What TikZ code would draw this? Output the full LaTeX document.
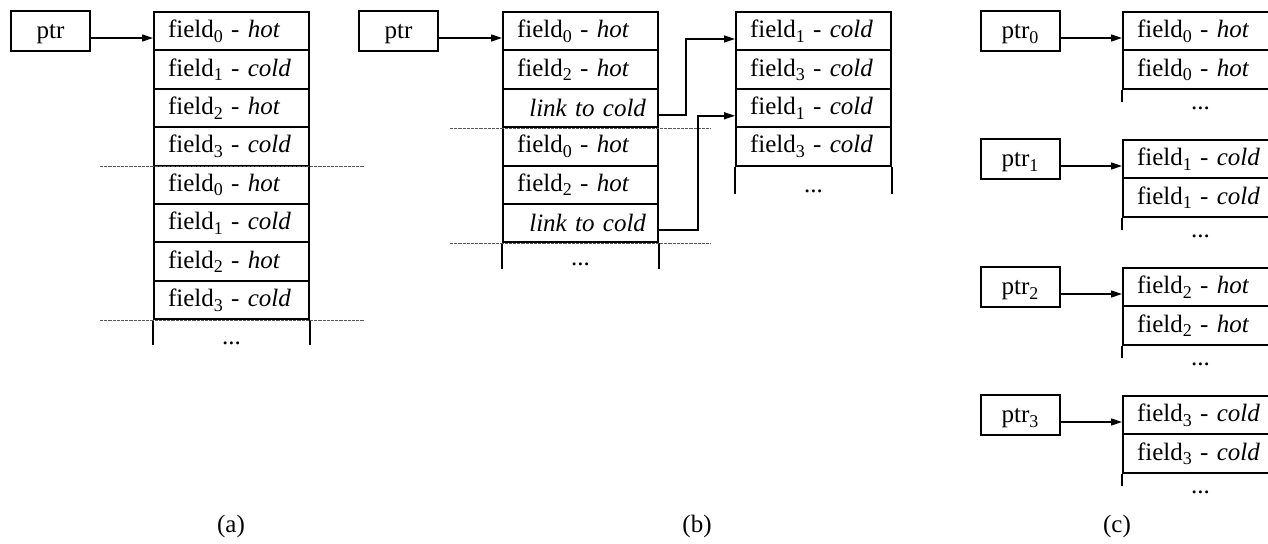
\documentclass[tikz,border=0pt]{standalone}
\usepackage{fontspec}
\setmainfont{Liberation Serif}
\usetikzlibrary{arrows.meta,calc}

% lowered index digit
\newcommand\idx[1]{\raisebox{-0.4ex}{\fontsize{9}{10}\selectfont #1}}
% one field entry: field_i - <temperature>, kept on one line
\newcommand\fld[2]{\mbox{field\idx{#1} - \textit{#2}}}

\begin{document}
\begin{tikzpicture}[x=0.5pt,y=-0.5pt,
  every node/.style={font=\fontsize{12.5}{15}\selectfont},
  ptrbox/.style={draw, line width=1pt, minimum width=39.5pt, minimum height=20pt,
    inner sep=0pt, text height=9pt, text depth=1pt},
  cell/.style={draw, line width=1pt, anchor=north west, minimum height=19.2pt,
    text width=63.5pt, inner xsep=7pt, inner ysep=0pt, align=left},
  linkcell/.style={cell, text width=65.5pt, inner xsep=6pt, align=right},
  tail/.style={line width=1pt},
  dotsnode/.style={anchor=base, inner sep=0pt},
  sepline/.style={gray!70!black, line width=0.45pt, dash pattern=on 1.6pt off 0.5pt},
  ptrarrow/.style={line width=0.75pt, -{Triangle[length=5.5pt,width=3.5pt]}},
  caption/.style={inner sep=0pt}
]
\useasboundingbox (0,0) rectangle (1268,544);
\clip (0,0) rectangle (1268,544);

% ---------------- (a) interleaved hot and cold fields ----------------
\node[ptrbox] (pa) at (50.5,31) {ptr};
\node[cell] (a0) at (153,11)    {\fld{0}{hot}};
\node[cell] (a1) at (153,49.4)  {\fld{1}{cold}};
\node[cell] (a2) at (153,87.8)  {\fld{2}{hot}};
\node[cell] (a3) at (153,126.2) {\fld{3}{cold}};
\node[cell] (a4) at (153,164.6) {\fld{0}{hot}};
\node[cell] (a5) at (153,203)   {\fld{1}{cold}};
\node[cell] (a6) at (153,241.4) {\fld{2}{hot}};
\node[cell] (a7) at (153,279.8) {\fld{3}{cold}};
\draw[tail] (a7.south west) -- ++(0,-12.5pt);
\draw[tail] (a7.south east) -- ++(0,-12.5pt);
\node[dotsnode] (adots) at ($(a7.south)+(0,-12pt)$) {...};
\draw[sepline] ([xshift=-26.5pt]a3.south west) -- ([xshift=27pt]a3.south east);
\draw[sepline] ([xshift=-26.5pt]a7.south west) -- ([xshift=27pt]a7.south east);
\draw[ptrarrow] ([yshift=-3.5pt]pa.east) -- ([yshift=-3.5pt]pa.east -| a0.west);
\node[caption] (capa) at (231,526) {(a)};

% ---------------- (b) hot fields with a link to the cold part ----------------
\node[ptrbox] (pb) at (398.5,31) {ptr};
\node[cell] (b0) at (502,11)    {\fld{0}{hot}};
\node[cell] (b1) at (502,49.4)  {\fld{2}{hot}};
\node[linkcell] (b2) at (502,87.8) {\mbox{\textit{link to cold}}};
\node[cell] (b3) at (502,126.2) {\fld{0}{hot}};
\node[cell] (b4) at (502,164.6) {\fld{2}{hot}};
\node[linkcell] (b5) at (502,203) {\mbox{\textit{link to cold}}};
\draw[tail] (b5.south west) -- ++(0,-12.8pt);
\draw[tail] (b5.south east) -- ++(0,-12.8pt);
\node[dotsnode] (bdots) at ($(b5.south)+(0,-11pt)$) {...};
\draw[sepline] ([xshift=-26pt]b2.south west) -- ([xshift=26pt]b2.south east);
\draw[sepline] ([xshift=-26pt]b5.south west) -- ([xshift=26pt]b5.south east);
\draw[ptrarrow] ([yshift=-3.5pt]pb.east) -- ([yshift=-3.5pt]pb.east -| b0.west);

\node[cell] (c0) at (735,11)    {\fld{1}{cold}};
\node[cell] (c1) at (735,49.4)  {\fld{3}{cold}};
\node[cell] (c2) at (735,87.8)  {\fld{1}{cold}};
\node[cell] (c3) at (735,126.2) {\fld{3}{cold}};
\draw[tail] (c3.south west) -- ++(0,-13.7pt);
\draw[tail] (c3.south east) -- ++(0,-13.7pt);
\node[dotsnode] (cdots) at ($(c3.south)+(0,-13pt)$) {...};

\draw[ptrarrow] ([yshift=-3.5pt]b2.east) -- ++(13.5pt,0) |- ([yshift=-3.9pt]c0.west);
\draw[ptrarrow] ([yshift=-3.5pt]b5.east) -- ++(19.5pt,0) |- ([yshift=-3.9pt]c2.west);
\node[caption] (capb) at (697,526) {(b)};

% ---------------- (c) one array per field ----------------
\foreach \k/\t/\y in {0/hot/11, 1/cold/139, 2/hot/267, 3/cold/395}{
  \node[ptrbox] (p\k) at (1020,\y+20) {ptr\idx{\k}};
  \node[cell] (d\k a) at (1122,\y) {\fld{\k}{\t}};
  \node[cell] (d\k b) at (1122,\y+38.4) {\fld{\k}{\t}};
  \draw[tail] (d\k b.south west) -- ++(0,-6pt);
  \draw[tail] (d\k b.south east) -- ++(0,-6pt);
  \node[dotsnode] (d\k dots) at ($(d\k b.south)+(0,-10pt)$) {...};
  \draw[ptrarrow] ([yshift=-3.5pt]p\k.east) -- ([yshift=-3.5pt]p\k.east -| d\k a.west);
}
\node[caption] (capc) at (1117,526) {(c)};
\end{tikzpicture}
\end{document}
